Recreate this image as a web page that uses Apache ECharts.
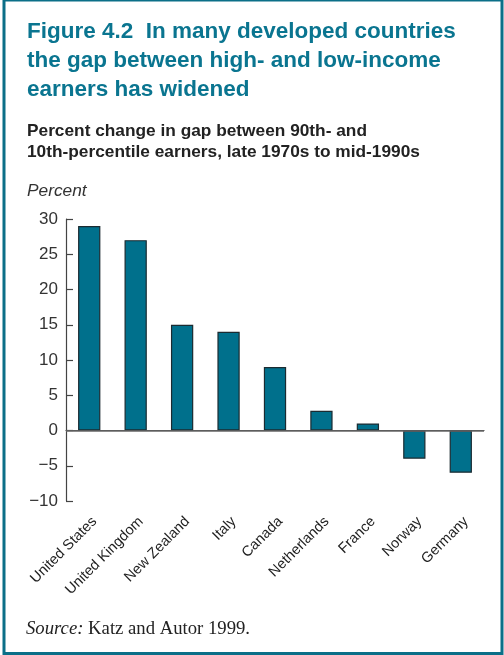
<!DOCTYPE html>
<html>
<head>
<meta charset="utf-8">
<script src="https://cdn.jsdelivr.net/npm/echarts@6/dist/echarts.min.js"></script>
<style>
  html, body { margin: 0; padding: 0; background: #fff; }
  #chart { width: 504px; height: 655px; }
</style>
</head>
<body>
<div id="chart"></div>
<script>
  // data
  const countries = ['United States', 'United Kingdom', 'New Zealand', 'Italy', 'Canada',
    'Netherlands', 'France', 'Norway', 'Germany'];
  const gapChange = [29, 27, 15, 14, 9, 2.8, 1, -4, -6];
  const yTicks = { min: -10, max: 30, step: 5 };

  const teal = '#00708c';
  const font = '"Liberation Sans", Arial, Helvetica, sans-serif';

  const chart = echarts.init(document.getElementById('chart'));
  chart.setOption({
    animation: false,
    backgroundColor: '#fff',
    title: [
      {
        text: 'Figure 4.2  In many developed countries\nthe gap between high- and low-income\nearners has widened',
        left: 27, top: 17, padding: 0,
        textStyle: { fontFamily: font, fontSize: 22.5, fontWeight: 'bold', color: '#0a7590', lineHeight: 29 }
      },
      {
        text: 'Percent change in gap between 90th- and\n10th-percentile earners, late 1970s to mid-1990s',
        left: 27, top: 121, padding: 0,
        textStyle: { fontFamily: font, fontSize: 17.3, fontWeight: 'bold', color: '#222', lineHeight: 21 }
      },
      {
        text: 'Percent',
        left: 27, top: 183, padding: 0,
        textStyle: { fontFamily: font, fontSize: 17.3, fontStyle: 'italic', fontWeight: 'normal', color: '#333' }
      },
      {
        text: '{i|Source:} Katz and Autor 1999.',
        left: 26, top: 620, padding: 0,
        textStyle: {
          fontFamily: '"Liberation Serif", "DejaVu Serif", serif', fontSize: 18.7, fontWeight: 'normal', color: '#222',
          rich: { i: { fontFamily: '"Liberation Serif", serif', fontSize: 18.7, fontStyle: 'italic', color: '#222' } }
        }
      }
    ],
    graphic: [
      {
        type: 'rect',
        shape: { x: 4, y: 0, width: 498, height: 653.5 },
        style: { fill: 'none', stroke: '#0b6f88', lineWidth: 3 },
        silent: true
      }
    ],
    grid: { left: 66, right: 20, top: 219, bottom: 154 },
    xAxis: {
      type: 'category',
      data: countries,
      axisLine: { lineStyle: { color: '#444', width: 1.2 } },
      axisTick: { length: 7, interval: 0, lineStyle: { color: '#444', width: 1.2 } },
      axisLabel: {
        interval: 0, rotate: 45, margin: 13, verticalAlign: 'top',
        fontFamily: font, fontSize: 14.5, color: '#222'
      }
    },
    yAxis: {
      type: 'value',
      min: yTicks.min, max: yTicks.max, interval: yTicks.step,
      axisLine: { show: true, lineStyle: { color: '#444', width: 1.2 } },
      axisTick: { show: true, inside: true, length: 7, lineStyle: { color: '#444', width: 1.2 } },
      splitLine: { show: false },
      axisLabel: {
        margin: 8, fontFamily: font, fontSize: 17, color: '#333',
        formatter: v => String(v).replace('-', '\u2212')
      }
    },
    series: [
      {
        type: 'bar',
        data: gapChange,
        barWidth: '48%',
        itemStyle: { color: teal, borderColor: '#1b2b31', borderWidth: 1.2 },
        markLine: {
          silent: true,
          symbol: 'none',
          label: { show: false },
          lineStyle: { color: '#666', width: 1.5, type: 'solid' },
          data: [{ yAxis: 0 }]
        }
      }
    ]
  });
</script>
</body>
</html>
